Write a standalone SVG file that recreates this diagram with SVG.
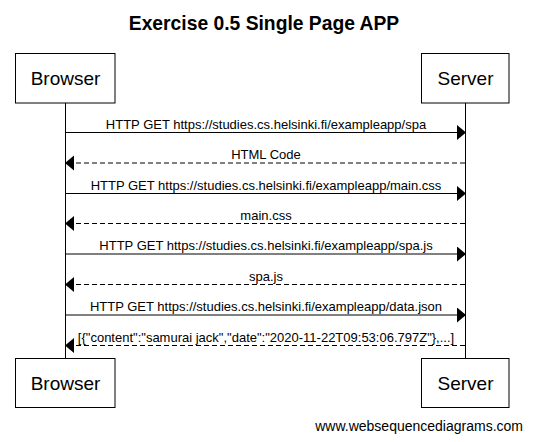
<svg xmlns="http://www.w3.org/2000/svg" width="534" height="442" viewBox="0 0 534 442">
<defs>
<marker id="ah" markerWidth="10" markerHeight="16" refX="9" refY="7.5" orient="auto" markerUnits="userSpaceOnUse">
<path d="M0,0 L9,7.5 L0,15 Z" fill="#000"/>
</marker>
<style>
.box{fill:#fff;stroke:#000;stroke-width:1}
.pt{font-family:"Liberation Sans",Arial,sans-serif;font-size:19px;fill:#000;text-anchor:middle}
.lbl{font-family:"Liberation Sans",Arial,sans-serif;font-size:13px;fill:#000;text-anchor:middle}
.msg{stroke:#000;stroke-width:1;fill:none;marker-end:url(#ah)}
.ret{stroke-dasharray:5,3}
.life{stroke:#000;stroke-width:1}
</style>
</defs>
<rect width="534" height="442" fill="#fff"/>
<text x="264" y="29.5" font-family="'Liberation Sans',Arial,sans-serif" font-size="19.3" font-weight="bold" text-anchor="middle">Exercise 0.5 Single Page APP</text>
<g id="lifelines">
<line class="life" x1="65.5" y1="103" x2="65.5" y2="358"/>
<line class="life" x1="465.5" y1="103" x2="465.5" y2="358"/>
</g>
<g id="browser-top"><rect class="box" x="15.5" y="53.5" width="99.5" height="49.5"/><text class="pt" x="65.5" y="85">Browser</text></g>
<g id="server-top"><rect class="box" x="421.5" y="53.5" width="87.5" height="49.5"/><text class="pt" x="465.5" y="85">Server</text></g>
<g id="browser-bottom"><rect class="box" x="15.5" y="358.5" width="99.5" height="49"/><text class="pt" x="65.5" y="390">Browser</text></g>
<g id="server-bottom"><rect class="box" x="421.5" y="358.5" width="87.5" height="49"/><text class="pt" x="465.5" y="390">Server</text></g>
<g id="connectors">
<line class="msg" x1="66" y1="132.5" x2="466" y2="132.5"/>
<text class="lbl" x="266" y="128.5">HTTP GET https://studies.cs.helsinki.fi/exampleapp/spa</text>
<line class="msg ret" x1="465" y1="163" x2="65" y2="163"/>
<text class="lbl" x="266" y="159">HTML Code</text>
<line class="msg" x1="66" y1="193.5" x2="466" y2="193.5"/>
<text class="lbl" x="266" y="189.5">HTTP GET https://studies.cs.helsinki.fi/exampleapp/main.css</text>
<line class="msg ret" x1="465" y1="223.5" x2="65" y2="223.5"/>
<text class="lbl" x="266" y="219.5">main.css</text>
<line class="msg" x1="66" y1="254" x2="466" y2="254"/>
<text class="lbl" x="266" y="250">HTTP GET https://studies.cs.helsinki.fi/exampleapp/spa.js</text>
<line class="msg ret" x1="465" y1="284.5" x2="65" y2="284.5"/>
<text class="lbl" x="266" y="280.5">spa.js</text>
<line class="msg" x1="66" y1="315" x2="466" y2="315"/>
<text class="lbl" x="266" y="311">HTTP GET https://studies.cs.helsinki.fi/exampleapp/data.json</text>
<line class="msg ret" x1="465" y1="345.5" x2="65" y2="345.5"/>
<text class="lbl" x="266" y="341.5">[{"content":"samurai jack","date":"2020-11-22T09:53:06.797Z"},...]</text>
</g>
<text x="523" y="431" font-family="'Liberation Sans',Arial,sans-serif" font-size="14" text-anchor="end">www.websequencediagrams.com</text>
</svg>
